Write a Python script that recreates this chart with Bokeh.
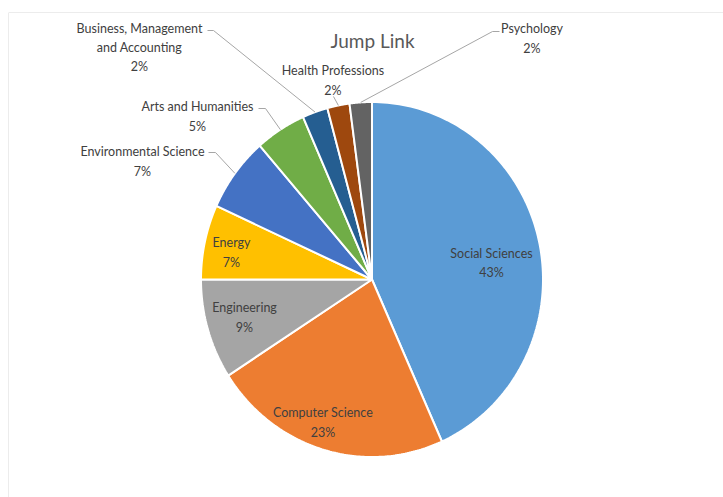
import numpy as np
from bokeh.plotting import figure
from bokeh.models import Range1d, Span, ColumnDataSource
from bokeh.embed import file_html
from bokeh.resources import INLINE
from bokeh.core.properties import value

# ---------------- data ----------------
chart_title = "Jump Link"
categories = ["Social Sciences", "Computer Science", "Engineering", "Energy",
              "Environmental Science", "Arts and Humanities",
              "Business, Management and Accounting", "Health Professions", "Psychology"]
label_names = ["Social Sciences", "Computer Science", "Engineering", "Energy",
               "Environmental Science", "Arts and Humanities",
               "Business, Management\nand Accounting", "Health Professions", "Psychology"]
shares = [43.3, 22.6, 9.1, 6.8, 6.8, 4.8, 2.4, 2.1, 2.1]
colors = ["#5B9BD5", "#ED7D31", "#A5A5A5", "#FFC000", "#4472C4",
          "#70AD47", "#255E91", "#9E480E", "#636363"]

# ---------------- layout (page pixels) ----------------
FIG_W, FIG_H = 723, 497
CX, CY = 371.5, 279.0      # pie centre
RX, RY = 171.0, 177.5      # pie radii
PAGE_X0, PAGE_X1 = 8, 723
PAGE_Y0, PAGE_Y1 = 12, 497

def to_data(x, y):
    return (x - CX) / RX, (CY - y) / RY

label_px = [(491, 262.5), (322.5, 422), (244, 317), (231, 252), (142, 161),
            (197, 116), (139, 47), (332.5, 80), (531.5, 38)]
leader_px = {4: [(208, 152), (215, 152)],
             5: [(258, 108), (265, 108)],
             6: [(207, 30), (213, 30)],
             7: [(333, 96)],
             8: [(499, 31), (492, 31)]}

total = float(sum(shares))
cum = np.concatenate([[0.0], np.cumsum(shares)]) / total * 2 * np.pi

xs, ys = [], []
for a0, a1 in zip(cum[:-1], cum[1:]):
    t = np.linspace(a0, a1, 120)
    xs.append([0.0] + list(np.sin(t)))
    ys.append([0.0] + list(np.cos(t)))

p = figure(width=FIG_W, height=FIG_H, output_backend="svg", toolbar_location=None,
           x_range=Range1d((PAGE_X0 - CX) / RX, (PAGE_X1 - CX) / RX),
           y_range=Range1d((CY - PAGE_Y1) / RY, (CY - PAGE_Y0) / RY),
           min_border_left=PAGE_X0, min_border_right=0,
           min_border_top=PAGE_Y0, min_border_bottom=0)
p.axis.visible = False
p.grid.visible = False
p.outline_line_color = None
p.background_fill_color = "white"
p.border_fill_color = "white"

# chart border (top and left visible)
p.add_layout(Span(location=(CY - PAGE_Y0) / RY, dimension="width", line_color="#d9d9d9", line_width=1))
p.add_layout(Span(location=(PAGE_X0 - CX) / RX, dimension="height", line_color="#d9d9d9", line_width=1))

p.patches(xs=xs, ys=ys, fill_color=colors, line_color="white", line_width=2)

# leader lines
lx, ly = [], []
for i, pts in leader_px.items():
    mid = (cum[i] + cum[i + 1]) / 2
    px = [to_data(x, y)[0] for x, y in pts] + [np.sin(mid)]
    py = [to_data(x, y)[1] for x, y in pts] + [np.cos(mid)]
    lx.append(px)
    ly.append(py)
p.multi_line(xs=lx, ys=ly, line_color="#a6a6a6", line_width=1)

# labels
pct = [int(round(s / total * 100)) for s in shares]
texts = [f"{n}\n{v}%" for n, v in zip(label_names, pct)]
pos = [to_data(x, y) for x, y in label_px]
src = ColumnDataSource(dict(x=[q[0] for q in pos], y=[q[1] for q in pos], t=texts))
p.text(x="x", y="y", text="t", source=src, text_font=value("Lato"), text_font_size="12.5px",
       text_color="#404040", text_align="center", text_baseline="middle", text_line_height=1.27)

tx, ty = to_data(372, 40)
p.text(x=[tx], y=[ty], text=[chart_title], text_font=value("Lato"), text_font_size="19px",
       text_color="#595959", text_align="center", text_baseline="middle")

open("out.html", "w").write(file_html(p, INLINE))
